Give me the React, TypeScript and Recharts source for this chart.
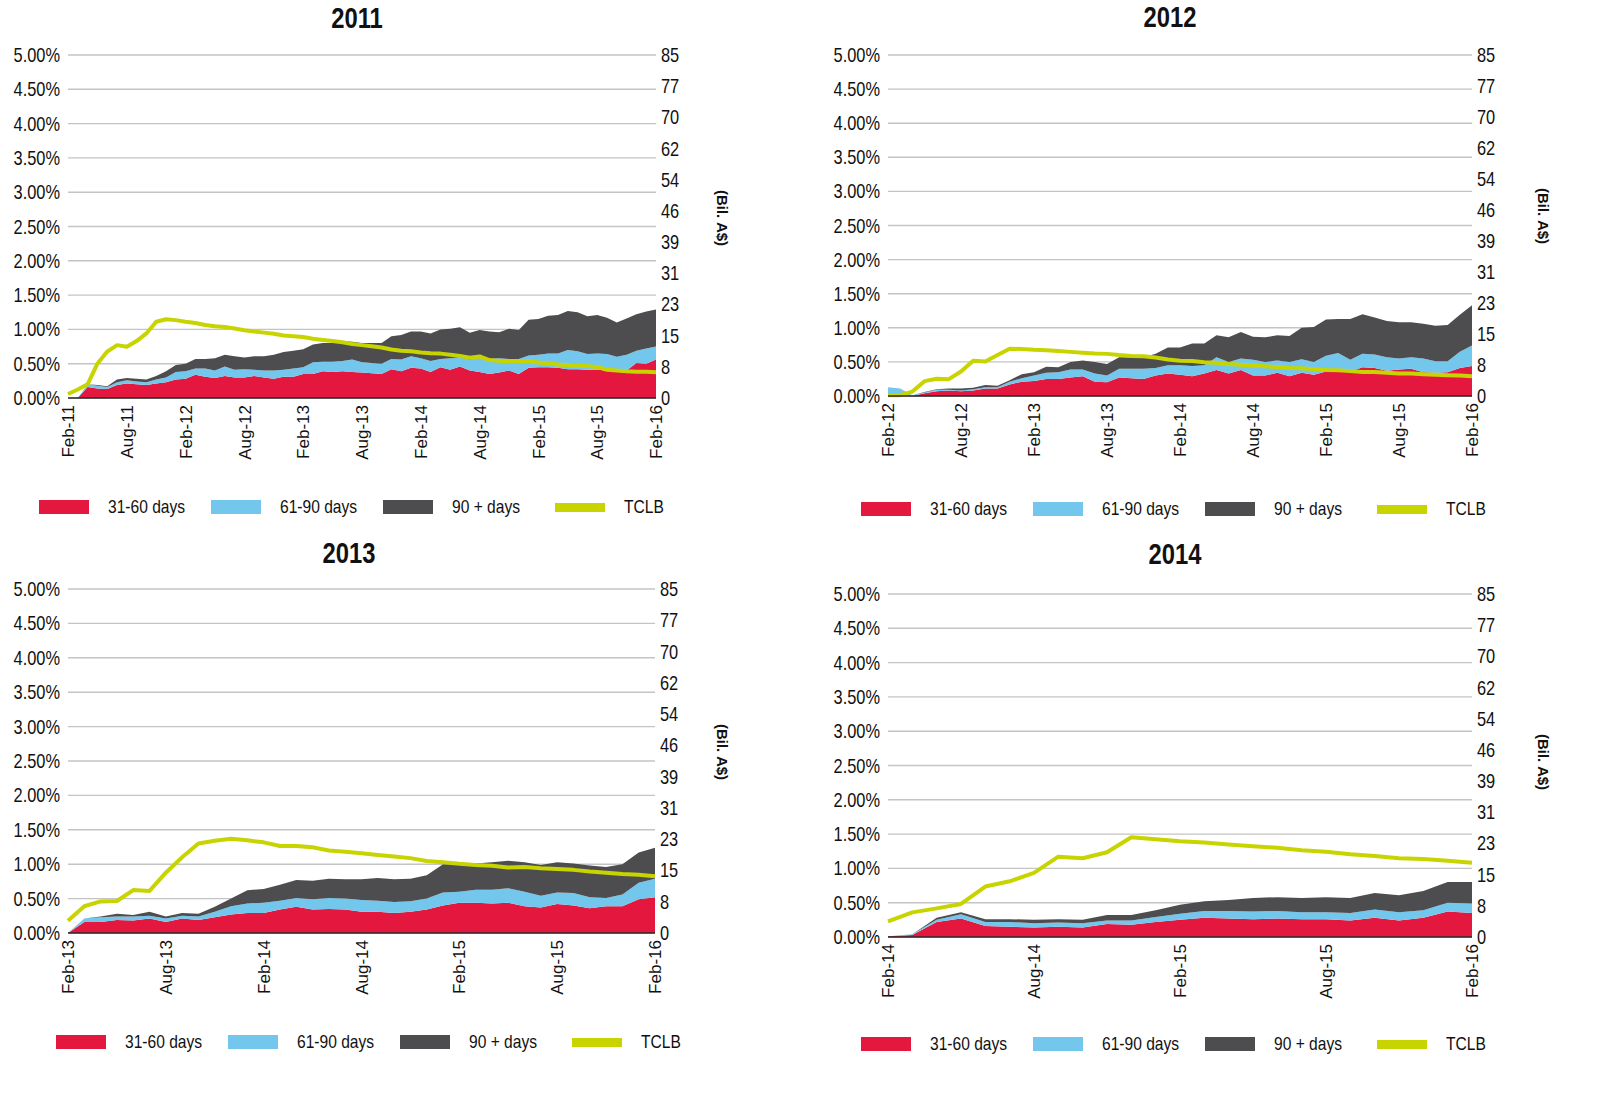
import { Area, CartesianGrid, ComposedChart, Line, XAxis, YAxis } from "recharts";

const SANS = '"Liberation Sans", Arial, sans-serif';
const SQUEEZE = 0.82; // Arial -> Arial Narrow look

const RED = "#e4173e";
const BLUE = "#74c7ec";
const DARK = "#4d4d4f";
const LIME = "#c8d400";

const MON = ["Jan", "Feb", "Mar", "Apr", "May", "Jun", "Jul", "Aug", "Sep", "Oct", "Nov", "Dec"];

// monthly categories, always starting in February
function months(startYear: number, n: number) {
  const out: string[] = [];
  for (let i = 0; i < n; i++) {
    const m = (1 + i) % 12;
    const y = startYear + Math.floor((1 + i) / 12);
    out.push(`${MON[m]}-${String(y).slice(2)}`);
  }
  return out;
}

const LEFT_TICKS = [0, 0.5, 1, 1.5, 2, 2.5, 3, 3.5, 4, 4.5, 5];
const RIGHT_LABELS = ["0", "8", "15", "23", "31", "39", "46", "54", "62", "70", "77", "85"];
const RIGHT_TICKS = RIGHT_LABELS.map((_, i) => (i * 85) / (RIGHT_LABELS.length - 1));

const LEGEND = [
  { name: "31-60 days", color: RED, h: 14 },
  { name: "61-90 days", color: BLUE, h: 14 },
  { name: "90 + days", color: DARK, h: 14 },
  { name: "TCLB", color: LIME, h: 9 },
];

// ---- 2011 pool (%, TCLB in bil. A$)
const cats11 = months(2011, 61);
const d31_11 = [
  0, 0, 0.16, 0.14, 0.13, 0.19, 0.21, 0.2, 0.19, 0.21,
  0.23, 0.27, 0.28, 0.34, 0.31, 0.29, 0.32, 0.3, 0.3, 0.32,
  0.3, 0.28, 0.31, 0.31, 0.35, 0.35, 0.39, 0.38, 0.39, 0.38,
  0.37, 0.36, 0.35, 0.42, 0.39, 0.44, 0.43, 0.38, 0.45, 0.41,
  0.46, 0.4, 0.38, 0.35, 0.37, 0.4, 0.35, 0.44, 0.45, 0.45,
  0.44, 0.42, 0.42, 0.41, 0.41, 0.4, 0.39, 0.4, 0.51, 0.5,
  0.56,
];
const d61_11 = [
  0, 0, 0.04, 0.04, 0.03, 0.04, 0.05, 0.04, 0.04, 0.06,
  0.07, 0.11, 0.11, 0.09, 0.12, 0.11, 0.14, 0.11, 0.12, 0.09,
  0.1, 0.12, 0.1, 0.12, 0.1, 0.17, 0.14, 0.15, 0.15, 0.18,
  0.15, 0.15, 0.15, 0.15, 0.17, 0.17, 0.15, 0.16, 0.12, 0.17,
  0.13, 0.16, 0.21, 0.22, 0.21, 0.17, 0.22, 0.18, 0.18, 0.2,
  0.21, 0.28, 0.26, 0.23, 0.24, 0.24, 0.21, 0.23, 0.18, 0.22,
  0.19,
];
const d90_11 = [
  0, 0, 0, 0.01, 0.01, 0.04, 0.03, 0.04, 0.04, 0.05,
  0.09, 0.1, 0.11, 0.14, 0.14, 0.18, 0.17, 0.2, 0.17, 0.2,
  0.21, 0.23, 0.26, 0.26, 0.26, 0.26, 0.27, 0.27, 0.29, 0.26,
  0.28, 0.29, 0.3, 0.33, 0.36, 0.36, 0.39, 0.4, 0.43, 0.43,
  0.44, 0.39, 0.4, 0.4, 0.38, 0.44, 0.42, 0.52, 0.52, 0.55,
  0.56, 0.57, 0.57, 0.55, 0.56, 0.53, 0.5, 0.53, 0.53, 0.54,
  0.54,
];
const tclb11 = [
  1.0, 2.1, 3.4, 8.5, 11.5, 13.1, 12.7, 14.1, 16.0, 18.9,
  19.5, 19.3, 18.9, 18.6, 18.1, 17.8, 17.6, 17.2, 16.8, 16.5,
  16.2, 15.9, 15.5, 15.3, 15.1, 14.7, 14.4, 14.1, 13.8, 13.4,
  13.1, 12.8, 12.5, 12.0, 11.7, 11.6, 11.3, 11.1, 11.0, 10.7,
  10.4, 10.0, 10.3, 9.4, 9.2, 9.2, 9.2, 9.1, 8.8, 8.6,
  8.3, 8.1, 7.9, 7.9, 7.7, 7.0, 6.8, 6.6, 6.5, 6.5,
  6.4,
];

// ---- 2012 pool
const cats12 = months(2012, 49);
const d31_12 = [
  0, 0, 0, 0.04, 0.07, 0.08, 0.07, 0.08, 0.11, 0.11,
  0.17, 0.21, 0.22, 0.25, 0.25, 0.27, 0.29, 0.21, 0.2, 0.27,
  0.26, 0.25, 0.3, 0.33, 0.31, 0.29, 0.33, 0.38, 0.33, 0.38,
  0.3, 0.3, 0.34, 0.29, 0.34, 0.31, 0.36, 0.38, 0.36, 0.42,
  0.41, 0.37, 0.39, 0.4, 0.35, 0.34, 0.35, 0.41, 0.44,
];
const d61_12 = [
  0.13, 0.11, 0.01, 0.01, 0.02, 0.01, 0.01, 0.02, 0.02, 0.02,
  0.04, 0.05, 0.08, 0.09, 0.1, 0.12, 0.1, 0.12, 0.1, 0.13,
  0.14, 0.15, 0.11, 0.12, 0.14, 0.15, 0.12, 0.19, 0.17, 0.17,
  0.23, 0.2, 0.18, 0.21, 0.2, 0.19, 0.23, 0.25, 0.17, 0.2,
  0.2, 0.2, 0.16, 0.17, 0.2, 0.17, 0.16, 0.24, 0.3,
];
const d90_12 = [
  0, 0, 0, 0.01, 0.01, 0.02, 0.03, 0.02, 0.03, 0.02,
  0.02, 0.06, 0.05, 0.09, 0.07, 0.11, 0.13, 0.17, 0.17, 0.17,
  0.17, 0.17, 0.21, 0.26, 0.26, 0.33, 0.32, 0.32, 0.36, 0.39,
  0.34, 0.36, 0.37, 0.38, 0.46, 0.51, 0.53, 0.5, 0.6, 0.58,
  0.54, 0.53, 0.53, 0.51, 0.51, 0.52, 0.53, 0.54, 0.59,
];
const tclb12 = [
  0.2, 0.2, 1.1, 3.7, 4.3, 4.2, 6.1, 8.8, 8.6, 10.2,
  11.8, 11.7, 11.5, 11.4, 11.2, 11.0, 10.8, 10.6, 10.5, 10.2,
  10.0, 9.9, 9.6, 9.1, 8.8, 8.7, 8.4, 8.3, 8.0, 7.8,
  7.6, 7.4, 7.2, 7.0, 6.9, 6.7, 6.5, 6.4, 6.2, 6.0,
  6.0, 5.8, 5.6, 5.6, 5.4, 5.3, 5.2, 5.1, 4.9,
];

// ---- 2013 pool
const cats13 = months(2013, 37);
const d31_13 = [
  0, 0.16, 0.16, 0.19, 0.18, 0.21, 0.16, 0.21, 0.19, 0.23,
  0.27, 0.29, 0.29, 0.34, 0.38, 0.34, 0.35, 0.34, 0.31, 0.31,
  0.29, 0.31, 0.34, 0.4, 0.44, 0.44, 0.43, 0.44, 0.39, 0.37,
  0.42, 0.4, 0.36, 0.39, 0.39, 0.49, 0.52,
];
const d61_13 = [
  0, 0.05, 0.07, 0.05, 0.06, 0.04, 0.05, 0.04, 0.05, 0.08,
  0.12, 0.14, 0.15, 0.13, 0.13, 0.15, 0.16, 0.16, 0.17, 0.16,
  0.16, 0.15, 0.16, 0.19, 0.16, 0.19, 0.2, 0.21, 0.21, 0.17,
  0.17, 0.18, 0.16, 0.12, 0.17, 0.24, 0.27,
];
const d90_13 = [
  0, 0, 0.01, 0.04, 0.02, 0.06, 0.03, 0.04, 0.04, 0.07,
  0.11, 0.19, 0.2, 0.23, 0.26, 0.27, 0.28, 0.28, 0.3, 0.33,
  0.33, 0.33, 0.34, 0.41, 0.4, 0.38, 0.4, 0.4, 0.43, 0.45,
  0.44, 0.43, 0.46, 0.45, 0.44, 0.44, 0.45,
];
const tclb13 = [
  3.0, 6.6, 7.8, 7.9, 10.6, 10.4, 14.9, 18.7, 22.1, 22.8,
  23.3, 22.9, 22.4, 21.5, 21.5, 21.2, 20.4, 20.1, 19.7, 19.3,
  18.9, 18.5, 17.8, 17.5, 17.1, 16.8, 16.6, 16.2, 16.3, 16.0,
  15.8, 15.6, 15.2, 14.9, 14.6, 14.4, 14.0,
];

// ---- 2014 pool
const cats14 = months(2014, 25);
const d31_14 = [
  0.01, 0.03, 0.22, 0.27, 0.16, 0.15, 0.14, 0.15, 0.14, 0.19,
  0.18, 0.22, 0.25, 0.28, 0.27, 0.26, 0.27, 0.26, 0.26, 0.24,
  0.28, 0.24, 0.28, 0.37, 0.35,
];
const d61_14 = [
  0, 0.01, 0.03, 0.06, 0.06, 0.07, 0.06, 0.06, 0.06, 0.05,
  0.06, 0.07, 0.09, 0.1, 0.11, 0.11, 0.11, 0.1, 0.1, 0.11,
  0.12, 0.12, 0.11, 0.13, 0.14,
];
const d90_14 = [
  0, 0, 0.03, 0.03, 0.04, 0.04, 0.05, 0.05, 0.05, 0.08,
  0.08, 0.1, 0.13, 0.14, 0.16, 0.2, 0.2, 0.21, 0.22, 0.22,
  0.24, 0.25, 0.28, 0.3, 0.31,
];
const tclb14 = [
  3.9, 6.1, 7.1, 8.2, 12.5, 13.8, 15.9, 19.9, 19.5, 21.0,
  24.7, 24.2, 23.7, 23.4, 22.9, 22.5, 22.1, 21.5, 21.1, 20.5,
  20.1, 19.5, 19.3, 18.9, 18.4,
];

type Plot = { l: number; r: number; t: number; b: number };

type PanelCfg = {
  title: string;
  cats: string[];
  d31: number[];
  d61: number[];
  d90: number[];
  tclb: number[];
  plot: Plot;
  titleAt: [number, number];
  bilAt: [number, number];
  legendX: number;
  legendY: number;
};

const PANELS: PanelCfg[] = [
  {
    title: "2011", cats: cats11, d31: d31_11, d61: d61_11, d90: d90_11, tclb: tclb11,
    plot: { l: 68, r: 656, t: 55, b: 398 }, titleAt: [357, 18], bilAt: [722, 218], legendX: 39, legendY: 507,
  },
  {
    title: "2012", cats: cats12, d31: d31_12, d61: d61_12, d90: d90_12, tclb: tclb12,
    plot: { l: 888, r: 1472, t: 55, b: 396 }, titleAt: [1170, 17], bilAt: [1543, 216], legendX: 861, legendY: 509,
  },
  {
    title: "2013", cats: cats13, d31: d31_13, d61: d61_13, d90: d90_13, tclb: tclb13,
    plot: { l: 68, r: 655, t: 589, b: 933 }, titleAt: [349, 553], bilAt: [722, 752], legendX: 56, legendY: 1042,
  },
  {
    title: "2014", cats: cats14, d31: d31_14, d61: d61_14, d90: d90_14, tclb: tclb14,
    plot: { l: 888, r: 1472, t: 594, b: 937 }, titleAt: [1175, 554], bilAt: [1543, 762], legendX: 861, legendY: 1044,
  },
];

const tickText = { fontFamily: SANS, fontSize: 20, fill: "#111" };

function MonthTick(props: any) {
  const { x, y, payload } = props;
  return (
    <g transform={`translate(${x},${y})`}>
      <text transform="rotate(-90)" textAnchor="end" dy="0.36em"
        style={{ fontFamily: SANS, fontSize: 17, fill: "#111" }}>
        {payload.value}
      </text>
    </g>
  );
}

function PctTick(props: any) {
  const { x, y, payload } = props;
  return (
    <text transform={`translate(${x},${y}) scale(${SQUEEZE},1)`} textAnchor="end" dy="0.35em" style={tickText}>
      {`${Number(payload.value).toFixed(2)}%`}
    </text>
  );
}

function BilTick(props: any) {
  const { x, y, payload } = props;
  return (
    <text transform={`translate(${x},${y}) scale(${SQUEEZE},1)`} textAnchor="start" dy="0.35em" style={tickText}>
      {`${Math.round(Number(payload.value))}`}
    </text>
  );
}

function Panel({ cfg }: { cfg: PanelCfg }) {
  const { plot } = cfg;
  const data = cfg.cats.map((m, i) => ({
    month: m, d31: cfg.d31[i], d61: cfg.d61[i], d90: cfg.d90[i], tclb: cfg.tclb[i],
  }));
  const xTicks = cfg.cats.filter((_, i) => i % 6 === 0);

  const left = plot.l - 68;
  const top = plot.t - 15;
  const width = plot.r - left + 60;
  const height = plot.b - top + 70;

  return (
    <>
      <div style={{ position: "absolute", left: cfg.titleAt[0], top: cfg.titleAt[1],
        transform: `translate(-50%,-50%) scaleX(${SQUEEZE})`, whiteSpace: "nowrap",
        fontFamily: SANS, fontWeight: 700, fontSize: 29, lineHeight: 1, color: "#111" }}>
        {cfg.title}
      </div>

      <div style={{ position: "absolute", left, top }}>
        <ComposedChart width={width} height={height} data={data}
          margin={{ top: 15, right: 10, bottom: 5, left: 8 }}>
          <CartesianGrid yAxisId="l" vertical={false} stroke="#c4c4c4" strokeWidth={1.4} />
          <XAxis dataKey="month" scale="point" ticks={xTicks} interval={0} height={65}
            tickSize={0} tickMargin={7} tick={<MonthTick />}
            axisLine={{ stroke: "#2a2a2a", strokeWidth: 1.5 }} />
          <YAxis yAxisId="l" domain={[0, 5]} ticks={LEFT_TICKS} width={60} interval={0}
            tickSize={0} tickMargin={8} axisLine={false} tick={<PctTick />} />
          <YAxis yAxisId="r" orientation="right" domain={[0, 85]} ticks={RIGHT_TICKS} width={50} interval={0}
            tickSize={0} tickMargin={5} axisLine={false} tick={<BilTick />} />
          <Area yAxisId="l" type="linear" dataKey="d31" stackId="s" fill={RED} fillOpacity={1}
            stroke="none" isAnimationActive={false} activeDot={false} />
          <Area yAxisId="l" type="linear" dataKey="d61" stackId="s" fill={BLUE} fillOpacity={1}
            stroke="none" isAnimationActive={false} activeDot={false} />
          <Area yAxisId="l" type="linear" dataKey="d90" stackId="s" fill={DARK} fillOpacity={1}
            stroke="none" isAnimationActive={false} activeDot={false} />
          <Line yAxisId="r" type="linear" dataKey="tclb" stroke={LIME} strokeWidth={4} dot={false}
            activeDot={false} strokeLinejoin="round" isAnimationActive={false} />
        </ComposedChart>
      </div>

      <div style={{ position: "absolute", left: cfg.bilAt[0], top: cfg.bilAt[1],
        transform: "translate(-50%,-50%) rotate(90deg)", whiteSpace: "nowrap",
        fontFamily: SANS, fontWeight: 700, fontSize: 15, lineHeight: 1, color: "#111" }}>
        (Bil. A$)
      </div>

      {LEGEND.map((it, i) => {
        const bx = cfg.legendX + i * 172;
        return (
          <div key={it.name}>
            <div style={{ position: "absolute", left: bx, top: cfg.legendY - it.h / 2, width: 50, height: it.h,
              background: it.color }} />
            <div style={{ position: "absolute", left: bx + 69, top: cfg.legendY - 11, height: 22, lineHeight: "22px",
              fontFamily: SANS, fontSize: 19, color: "#111", whiteSpace: "nowrap",
              transform: `scaleX(${SQUEEZE})`, transformOrigin: "left center" }}>
              {it.name}
            </div>
          </div>
        );
      })}
    </>
  );
}

export default function App() {
  return (
    <div style={{ position: "absolute", left: 0, top: 0, width: 1603, height: 1093, background: "#fff", overflow: "hidden" }}>
      {PANELS.map((p) => (
        <Panel key={p.title} cfg={p} />
      ))}
    </div>
  );
}
